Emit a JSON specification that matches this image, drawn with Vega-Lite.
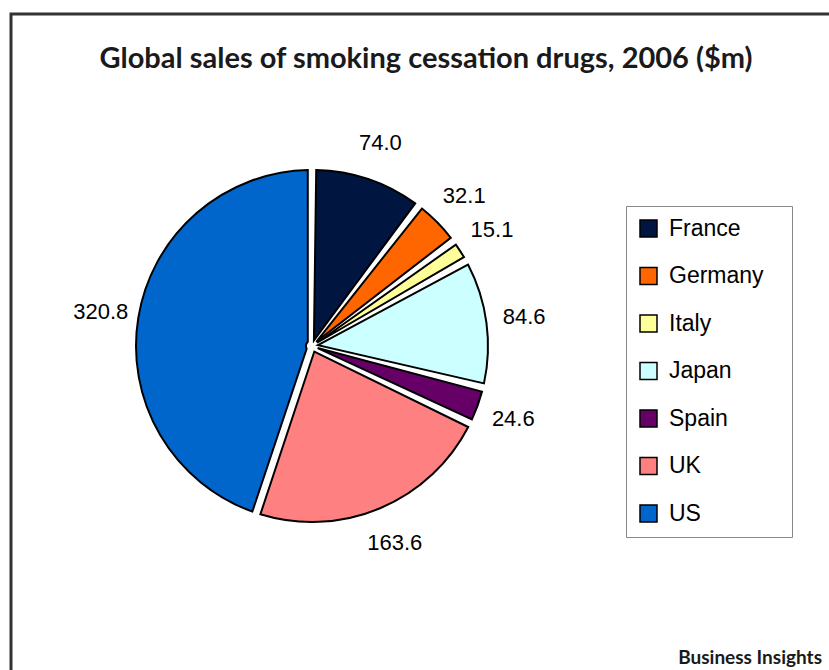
{
  "$schema": "https://vega.github.io/schema/vega-lite/v6.json",
  "autosize": {"type": "fit", "contains": "padding"},
  "width": 829,
  "height": 670,
  "padding": {"left": 9, "top": 12, "right": -4, "bottom": -4},
  "background": "white",
  "title": {
    "text": "Global sales of smoking cessation drugs, 2006 ($m)",
    "font": "Lato",
    "fontSize": 29,
    "fontWeight": "bold",
    "color": "#1a1a1a",
    "anchor": "middle",
    "baseline": "alphabetic",
    "offset": -84,
    "dx": 5
  },
  "config": {
    "view": {"stroke": null},
    "font": "Liberation Sans"
  },
  "layer": [
    {
      "data": {"values": [{"frame": 1}]},
      "mark": {
        "type": "rect",
        "x": 0,
        "y": 0,
        "x2": "width",
        "y2": "height",
        "fill": null,
        "stroke": "#333333",
        "strokeWidth": 3
      },
      "encoding": {}
    },
    {
      "data": {
        "name": "sales",
        "values": [
          {"country": "France", "sales": 74.0, "idx": 1},
          {"country": "Germany", "sales": 32.1, "idx": 2},
          {"country": "Italy", "sales": 15.1, "idx": 3},
          {"country": "Japan", "sales": 84.6, "idx": 4},
          {"country": "Spain", "sales": 24.6, "idx": 5},
          {"country": "UK", "sales": 163.6, "idx": 6},
          {"country": "US", "sales": 320.8, "idx": 7}
        ]
      },
      "layer": [
        {
          "mark": {
            "type": "arc",
            "outerRadius": 176,
            "innerRadius": 6,
            "padAngle": 0.048,
            "stroke": "black",
            "strokeWidth": 2,
            "xOffset": -109,
            "yOffset": 3
          },
          "encoding": {
            "theta": {"field": "sales", "type": "quantitative", "stack": true},
            "order": {"field": "idx", "type": "quantitative"},
            "color": {
              "field": "country",
              "type": "nominal",
              "scale": {
                "domain": ["France", "Germany", "Italy", "Japan", "Spain", "UK", "US"],
                "range": ["#001640", "#FF6600", "#FFFF99", "#CCFFFF", "#660066", "#FF8080", "#0066CC"]
              },
              "legend": {
                "title": null,
                "orient": "none",
                "legendX": 615,
                "legendY": 192,
                "direction": "vertical",
                "symbolType": "square",
                "symbolSize": 289,
                "symbolStrokeColor": "black",
                "symbolStrokeWidth": 1.5,
                "labelFont": "Liberation Sans",
                "labelFontSize": 23,
                "labelColor": "black",
                "labelOffset": 9,
                "rowPadding": 23.5,
                "padding": 11,
                "strokeColor": "#888888",
                "labelExpr": "datum.label + '\u2800'"
              }
            }
          }
        },
        {
          "mark": {
            "type": "text",
            "fontSize": 22,
            "font": "Liberation Sans",
            "color": "black",
            "xOffset": -109,
            "yOffset": 3,
            "align": "center",
            "baseline": "middle"
          },
          "encoding": {
            "theta": {"field": "sales", "type": "quantitative", "stack": true},
            "order": {"field": "idx", "type": "quantitative"},
            "radius": {"value": 214},
            "text": {"field": "sales", "type": "quantitative", "format": ".1f"}
          }
        }
      ]
    },
    {
      "data": {"values": [{"label": "Business Insights"}]},
      "mark": {
        "type": "text",
        "x": "width",
        "y": "height",
        "dx": -9,
        "dy": -8,
        "align": "right",
        "baseline": "alphabetic",
        "font": "Lato",
        "fontWeight": "bold",
        "fontSize": 19,
        "color": "#1a1a1a"
      },
      "encoding": {
        "text": {"field": "label", "type": "nominal"}
      }
    }
  ]
}
